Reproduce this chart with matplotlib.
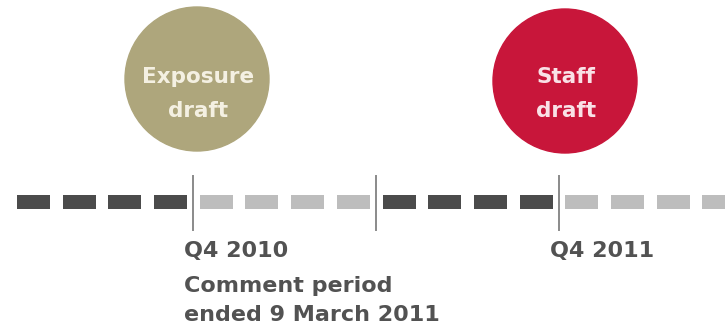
import matplotlib
matplotlib.use("Agg")
import matplotlib.pyplot as plt
from matplotlib.patches import Circle

# ---- data ----
segment_shades = ["dark"] * 4 + ["light"] * 4 + ["dark"] * 4 + ["light"] * 4
milestone_segments = [4, 8, 12]          # tick lines placed before these segments
bubble_labels = ["Exposure\ndraft", "Staff\ndraft"]
bubble_colors = ["#aea67c", "#c8163a"]
bubble_text_colors = ["#f4f0e2", "#f9e1e6"]
bubble_centers = [(197, 79), (565, 81)]
milestone_texts = [
    (4, ["Q4 2010", "Comment period", "ended 9 March 2011"]),
    (12, ["Q4 2011"]),
]

shade_colors = {"dark": "#4b4b4b", "light": "#bdbdbd"}

# ---- layout ----
W, H = 725, 331
fig = plt.figure(figsize=(W / 100, H / 100), dpi=100)
ax = fig.add_axes([0, 0, 1, 1])
ax.set_xlim(0, W)
ax.set_ylim(H, 0)
ax.axis("off")

x0, period, dash_w = 17, 45.7, 33
dash_top, dash_h = 195, 14

xs = [x0 + i * period for i in range(len(segment_shades))]
ax.bar(xs, [dash_h] * len(xs), width=dash_w, bottom=dash_top, align="edge",
       color=[shade_colors[s] for s in segment_shades], linewidth=0, zorder=2)

for seg in milestone_segments:
    xt = x0 + seg * period - 6.5
    ax.plot([xt, xt], [176, 230], color="#8a8a8a", lw=1.4, zorder=3)

for (cx, cy), col, tcol, lab in zip(bubble_centers, bubble_colors,
                                    bubble_text_colors, bubble_labels):
    ax.add_patch(Circle((cx, cy), 72, color=col, zorder=1))
    lines = lab.split("\n")
    ax.text(cx + 1, 83, lines[0], ha="center", va="baseline",
            fontsize=15.5, fontweight="bold", color=tcol,
            family="DejaVu Sans", zorder=4)
    ax.text(cx + 1, 117, lines[1], ha="center", va="baseline",
            fontsize=15.5, fontweight="bold", color=tcol,
            family="DejaVu Sans", zorder=4)

baselines = [257, 292, 321]
for seg, lines in milestone_texts:
    xt = x0 + seg * period - 6.5 - 9
    for yb, line in zip(baselines, lines):
        ax.text(xt, yb, line, ha="left", va="baseline", fontsize=16,
                fontweight="bold", color="#525252", family="DejaVu Sans")

fig.savefig("out.png", dpi=100)
